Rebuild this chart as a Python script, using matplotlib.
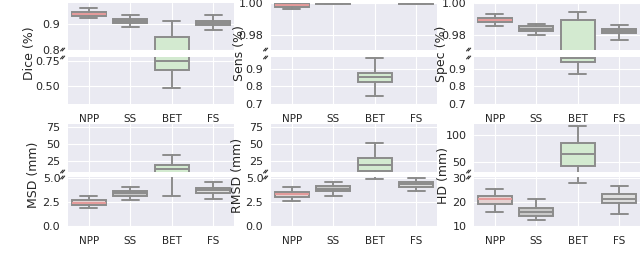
"""
Broken-axis boxplots: segmentation metrics for NPP / SS / BET / FS
"""

import matplotlib
matplotlib.use('Agg')
import matplotlib.pyplot as plt
import seaborn as sns

sns.set_style('darkgrid')
plt.rcParams['font.family'] = ['DejaVu Sans']

methods = ['NPP', 'SS', 'BET', 'FS']

# each entry: [whisker low, q1, median, q3, whisker high]
dice = [[0.922, 0.931, 0.938, 0.944, 0.959],
        [0.889, 0.904, 0.910, 0.918, 0.933],
        [0.48, 0.66, 0.75, 0.85, 0.911],
        [0.878, 0.894, 0.903, 0.911, 0.933]]
sens = [[0.9962, 0.9976, 0.9988, 0.9996, 0.99995],
        [0.9994, 0.9996, 0.9998, 0.9999, 1.0],
        [0.744, 0.822, 0.855, 0.878, 0.962],
        [0.9994, 0.9996, 0.9998, 0.9999, 1.0]]
spec = [[0.9856, 0.9883, 0.9895, 0.9908, 0.9935],
        [0.9800, 0.9825, 0.9840, 0.9856, 0.9873],
        [0.867, 0.935, 0.962, 0.9894, 0.9946],
        [0.9769, 0.9813, 0.9825, 0.9838, 0.9862]]
msd = [[1.87, 2.23, 2.42, 2.73, 3.13],
       [2.73, 3.13, 3.40, 3.63, 4.03],
       [3.10, 7.0, 12.8, 19.0, 33.5],
       [2.80, 3.40, 3.70, 3.97, 4.63]]
rmsd = [[2.60, 3.07, 3.30, 3.53, 4.03],
        [3.13, 3.63, 3.90, 4.13, 4.57],
        [4.87, 10.7, 19.0, 29.0, 51.0],
        [3.63, 4.07, 4.35, 4.63, 5.03]]
hd = [[15.8, 19.3, 21.1, 22.4, 25.6],
      [12.7, 14.2, 15.7, 17.3, 21.1],
      [27.7, 43.0, 64.5, 86.0, 116.0],
      [15.2, 19.75, 21.4, 23.2, 26.7]]

box_colors = ['#e4d2d2', '#c9c9c9', '#d3ead0', '#dedede']
median_colors = ['#e49a9a', '#8c8c8c', '#8c8c8c', '#8c8c8c']
edge = '#8c8c8c'

# panel: label, data, top ylim, bottom ylim, top ticks, bottom ticks, tick formats
panels = [
    ('Dice (%)', dice, (0.80, 0.98), (0.32, 0.79), [0.8, 0.9], [0.50, 0.75], ('{:.1f}', '{:.2f}')),
    ('Sens (%)', sens, (0.971, 1.0), (0.70, 0.966), [0.98, 1.00], [0.7, 0.8, 0.9], ('{:.2f}', '{:.1f}')),
    ('Spec (%)', spec, (0.971, 1.0), (0.70, 0.966), [0.98, 1.00], [0.7, 0.8, 0.9], ('{:.2f}', '{:.1f}')),
    ('MSD (mm)', msd, (8.5, 80), (0.0, 5.1), [25, 50, 75], [0.0, 2.5, 5.0], ('{:.0f}', '{:.1f}')),
    ('RMSD (mm)', rmsd, (8.5, 80), (0.0, 5.1), [25, 50, 75], [0.0, 2.5, 5.0], ('{:.0f}', '{:.1f}')),
    ('HD (mm)', hd, (32, 120), (10, 30.4), [50, 100], [10, 20, 30], ('{:.0f}', '{:.0f}')),
]

W, H = 640, 268
fig = plt.figure(figsize=(6.4, 2.68), dpi=100)

col_left = [68, 271, 474]
col_width = 166
row_px = [((3, 50), (57, 104)), ((124, 172), (177, 226))]
ylabel_x = [[30, 239, 441], [33, 238, 443]]


def rect(x0, y0, y1):
    return [x0 / W, (H - y1) / H, col_width / W, (y1 - y0) / H]


def make_stats(data):
    out = []
    for lo, q1, med, q3, hi in data:
        out.append(dict(whislo=lo, q1=q1, med=med, q3=q3, whishi=hi, fliers=[]))
    return out


for i, (label, data, lim_top, lim_bot, t_top, t_bot, fmts) in enumerate(panels):
    r, c = divmod(i, 3)
    (ty0, ty1), (by0, by1) = row_px[r]
    ax_t = fig.add_axes(rect(col_left[c], ty0, ty1))
    ax_b = fig.add_axes(rect(col_left[c], by0, by1))
    stats = make_stats(data)
    for ax in (ax_t, ax_b):
        bp = ax.bxp(stats, positions=range(4), widths=0.82, showfliers=False,
                    patch_artist=True, capwidths=0.4,
                    boxprops=dict(edgecolor=edge, linewidth=1.4),
                    whiskerprops=dict(color=edge, linewidth=1.4),
                    capprops=dict(color=edge, linewidth=1.4),
                    medianprops=dict(color=edge, linewidth=1.4))
        for patch, fc in zip(bp['boxes'], box_colors):
            patch.set_facecolor(fc)
        for med, mc in zip(bp['medians'], median_colors):
            med.set_color(mc)
        ax.set_xlim(-0.5, 3.5)
        ax.tick_params(axis='y', labelsize=8, pad=2)
        for s in ax.spines.values():
            s.set_visible(False)

    ax_t.set_ylim(*lim_top)
    ax_b.set_ylim(*lim_bot)
    ax_t.set_yticks(t_top)
    ax_t.set_yticklabels([fmts[0].format(v) for v in t_top])
    ax_b.set_yticks(t_bot)
    ax_b.set_yticklabels([fmts[1].format(v) for v in t_bot])
    ax_t.set_xticks(range(4))
    ax_t.set_xticklabels([])
    ax_t.tick_params(axis='x', length=0)
    ax_b.set_xticks(range(4))
    ax_b.set_xticklabels(methods, fontsize=7.5)
    ax_b.tick_params(axis='x', pad=7, length=0)

    # break marks
    kw = dict(transform=ax_t.transAxes, color='#333333', clip_on=False, linewidth=0.8)
    ax_t.plot([-0.045, -0.03], [-0.02, 0.04], **kw)
    ax_t.plot([-0.035, -0.02], [-0.02, 0.04], **kw)
    kw['transform'] = ax_b.transAxes
    ax_b.plot([-0.045, -0.03], [0.96, 1.02], **kw)
    ax_b.plot([-0.035, -0.02], [0.96, 1.02], **kw)

    fig.text(ylabel_x[r][c] / W, 1 - ((ty0 + by1) / 2) / H, label,
             rotation=90, ha='center', va='center', fontsize=9)

plt.savefig('out.png', dpi=100, facecolor='white')
plt.close()
